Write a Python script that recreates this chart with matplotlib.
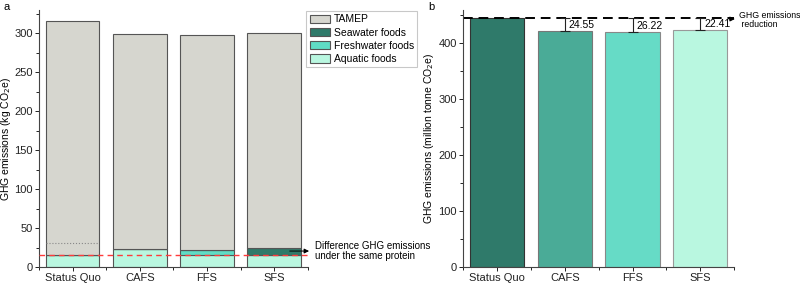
import matplotlib.pyplot as plt
import numpy as np
from matplotlib.ticker import MultipleLocator

plt.rcParams['font.family'] = ['Liberation Sans', 'DejaVu Sans']

SCENARIOS = ['Status Quo', 'CAFS', 'FFS', 'SFS']

# panel a, kg CO2e per capita
aquatic = [15.4, 22.6, 15.4, 15.4]
freshwater = [0, 0, 5.9, 0]
seawater = [0, 0, 0, 9.4]
tamep = [300.6, 276.1, 276.1, 275.2]
sq_reference = 30.4
same_protein = 15.4

# panel b, million tonne CO2e
totals = [444.5, 419.95, 418.28, 422.09]
reductions = [24.55, 26.22, 22.41]

COL_TAMEP = '#d6d6cf'
COL_SEA = '#2f7a6a'
COL_FRESH = '#5fdcc5'
COL_AQUA = '#b9f7e0'
COLS_B = ['#2f7a6a', '#4aab97', '#66dbc6', '#b9f7e0']


def style_axis(ax):
    for side in ['top', 'right']:
        ax.spines[side].set_visible(False)
    for side in ['left', 'bottom']:
        ax.spines[side].set_color('#444444')
        ax.spines[side].set_linewidth(0.8)
    ax.tick_params(axis='both', direction='out', labelsize=8, length=3, width=0.7,
                   colors='#222222', pad=1.5)
    ax.tick_params(which='minor', direction='out', length=2, width=0.6)
    ax.set_xticks(range(len(SCENARIOS)))
    ax.set_xticklabels(SCENARIOS)
    ax.xaxis.set_minor_locator(MultipleLocator(0.5))
    ax.set_xlim(-0.5, 3.5)


fig = plt.figure(figsize=(8, 2.83), dpi=100)
ax_a = fig.add_axes([0.04875, 0.0565, 0.336, 0.908])
ax_b = fig.add_axes([0.579, 0.0565, 0.3388, 0.908])

x = np.arange(len(SCENARIOS))
w = 0.8

# --- panel a: stacked bars
bot = np.zeros(len(x))
ax_a.bar(x, aquatic, w, bottom=bot, color=COL_AQUA, edgecolor='#555555', lw=0.8, label='Aquatic foods')
bot += aquatic
ax_a.bar(x, freshwater, w, bottom=bot, color=COL_FRESH, edgecolor='#555555', lw=0.8, label='Freshwater foods')
bot += freshwater
ax_a.bar(x, seawater, w, bottom=bot, color=COL_SEA, edgecolor='#555555', lw=0.8, label='Seawater foods')
bot += seawater
ax_a.bar(x, tamep, w, bottom=bot, color=COL_TAMEP, edgecolor='#555555', lw=0.8, label='TAMEP')

ax_a.hlines(sq_reference, -0.4, 0.4, colors='#888888', linestyles=':', lw=0.8)
ax_a.axhline(same_protein, color='#ff3b3b', ls=(0, (4, 3)), lw=1.0, zorder=5)
ax_a.annotate('', xy=(3.56, 20.5), xytext=(3.19, 20.5), annotation_clip=False,
              arrowprops=dict(arrowstyle='-|>', color='black', lw=0.7, mutation_scale=7))
ax_a.text(3.6, 20.5, 'Difference GHG emissions\nunder the same protein', fontsize=7,
          va='center', ha='left', linespacing=1.1, clip_on=False)

ax_a.set_ylim(0, 330)
ax_a.yaxis.set_major_locator(MultipleLocator(50))
ax_a.yaxis.set_minor_locator(MultipleLocator(25))
ax_a.set_ylabel('GHG emissions (kg CO$_2$e)', fontsize=7.5, labelpad=1)
style_axis(ax_a)

handles, labels = ax_a.get_legend_handles_labels()
leg = ax_a.legend(handles[::-1], labels[::-1], loc='upper left', bbox_to_anchor=(0.995, 0.995),
                  fontsize=7.5, frameon=True, fancybox=False, borderpad=0.3, labelspacing=0.3,
                  handlelength=2.0, handleheight=0.9, handletextpad=0.3, borderaxespad=0)
leg.get_frame().set_edgecolor('#bbbbbb')
leg.get_frame().set_linewidth(0.8)

# --- panel b: totals with reductions
ax_b.bar(x, totals, w, color=COLS_B, edgecolor=['#333333', '#777777', '#888888', '#999999'], lw=0.8)
ref = totals[0]
ax_b.axhline(ref, color='black', ls=(0, (5, 3)), lw=1.4)
for xi, top, red in zip(x[1:], totals[1:], reductions):
    ax_b.errorbar(xi, (top + ref) / 2, yerr=(ref - top) / 2, fmt='none', ecolor='#222222',
                  elinewidth=0.8, capsize=3.5, capthick=0.8)
    ax_b.text(xi + 0.06, (top + ref) / 2 - 1, f'{red:.2f}', fontsize=7.5, va='center', ha='left')
ax_b.annotate('', xy=(3.55, 442), xytext=(3.38, 442), annotation_clip=False,
              arrowprops=dict(arrowstyle='-|>', color='black', lw=0.7, mutation_scale=7))
ax_b.text(3.565, 440, 'GHG emissions\n reduction', fontsize=6.3, va='center', ha='left',
          linespacing=1.1, clip_on=False)

ax_b.set_ylim(0, 458)
ax_b.yaxis.set_major_locator(MultipleLocator(100))
ax_b.yaxis.set_minor_locator(MultipleLocator(50))
ax_b.set_ylabel('GHG emissions (million tonne CO$_2$e)', fontsize=7.5, labelpad=2)
style_axis(ax_b)

fig.text(3 / 800, 1 - 7 / 283, 'a', fontsize=8, va='center')
fig.text(428 / 800, 1 - 7 / 283, 'b', fontsize=8, va='center')

fig.savefig('out.png', dpi=100)
